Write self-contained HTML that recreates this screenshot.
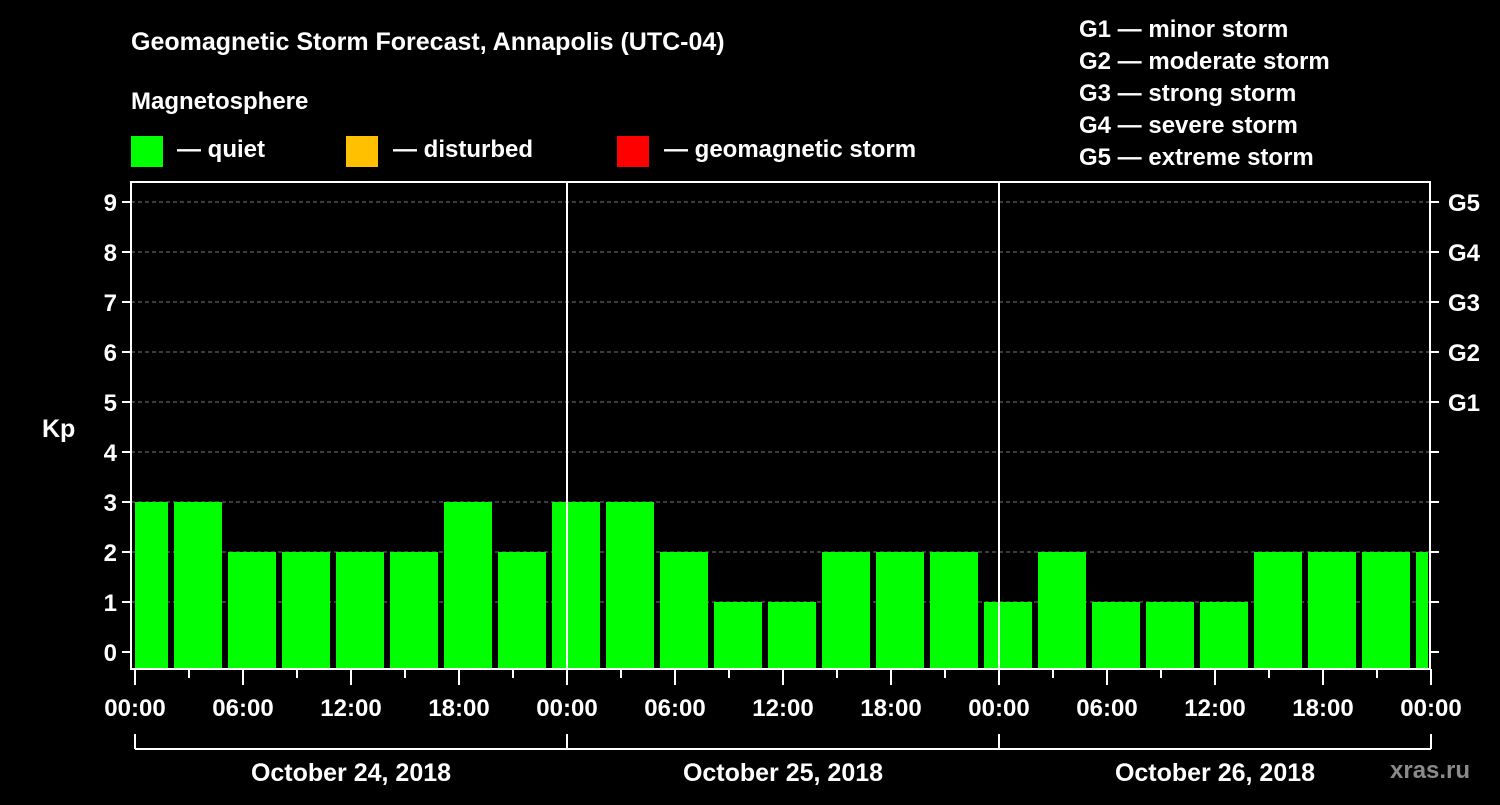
<!DOCTYPE html>
<html><head><meta charset="utf-8"><style>
body{margin:0;background:#000;width:1500px;height:800px;overflow:hidden}
svg text{font-family:"Liberation Sans",sans-serif;font-weight:bold;fill:#fff}
</style></head><body>
<svg id="c" width="1500" height="800" xmlns="http://www.w3.org/2000/svg">
<text x="131" y="50" font-size="25">Geomagnetic Storm Forecast, Annapolis (UTC-04)</text>
<text x="131" y="109" font-size="24">Magnetosphere</text>
<g><rect x="131" y="136" width="32" height="31" fill="#00ff00"/><text x="177" y="157" font-size="24">— quiet</text></g>
<g><rect x="346" y="136" width="32" height="31" fill="#ffc000"/><text x="393" y="157" font-size="24">— disturbed</text></g>
<g><rect x="617" y="136" width="32" height="31" fill="#ff0000"/><text x="664" y="157" font-size="24">— geomagnetic storm</text></g>
<g font-size="24">
<text x="1079" y="37">G1 — minor storm</text><text x="1079" y="69">G2 — moderate storm</text><text x="1079" y="101">G3 — strong storm</text><text x="1079" y="133">G4 — severe storm</text><text x="1079" y="165">G5 — extreme storm</text></g>
<text x="42" y="437" font-size="25">Kp</text>
<text x="1390" y="778" font-size="24" fill="#888" style="fill:#8a8a8a">xras.ru</text>
<g id="grid"></g><g id="bars"></g><g id="axes"></g>
</svg>
<script>
const values=[3,3,2,2,2,2,3,2,3,3,2,1,1,2,2,2,1,2,1,1,1,2,2,2,2];
const yTicks=[0,1,2,3,4,5,6,7,8,9];
const gLabels=["G1","G2","G3","G4","G5"];
const gLevels=[5,6,7,8,9];
const xTickLabels=["00:00","06:00","12:00","18:00","00:00","06:00","12:00","18:00","00:00","06:00","12:00","18:00","00:00"];
const dayLabels=["October 24, 2018","October 25, 2018","October 26, 2018"];
const NS="http://www.w3.org/2000/svg";
const X0=135,HOUR=18,Y0=652,UNIT=50,L=131,R=1430,T=182,B=669;
const xs=h=>X0+h*HOUR, ys=v=>Y0-v*UNIT;
function mk(p,tag,a){const e=document.createElementNS(NS,tag);for(const k in a)e.setAttribute(k,a[k]);p.appendChild(e);return e;}
const grid=document.getElementById('grid'),bars=document.getElementById('bars'),axes=document.getElementById('axes');
yTicks.forEach(v=>{if(v>0){const l=mk(grid,'line',{x1:L,x2:R,y1:ys(v),y2:ys(v),stroke:'#777','stroke-dasharray':'4,3','stroke-width':1});

}});
values.forEach((v,i)=>{const c=xs(i*3+0.5);let x1=Math.max(c-24,L+4),x2=Math.min(c+24,R-2);
const r=mk(bars,'rect',{x:x1,y:ys(v),width:x2-x1,height:B-1-ys(v),fill:'#00ff00'});

});
// day separators
[1,2].forEach(d=>{const l=mk(axes,'line',{x1:xs(d*24),x2:xs(d*24),y1:T,y2:B,stroke:'#fff','stroke-width':2});

});
const fr=mk(axes,'rect',{x:L,y:T,width:R-L,height:B-T,fill:'none',stroke:'#fff','stroke-width':2});


yTicks.forEach(v=>{mk(axes,'line',{x1:L-9,x2:L,y1:ys(v),y2:ys(v),stroke:'#fff','stroke-width':2});
mk(axes,'line',{x1:R,x2:R+9,y1:ys(v),y2:ys(v),stroke:'#fff','stroke-width':2});
const t=mk(axes,'text',{x:L-14,y:ys(v)+9,'font-size':24,'text-anchor':'end'});t.textContent=v;

});
gLabels.forEach((g,i)=>{const t=mk(axes,'text',{x:R+18,y:ys(gLevels[i])+9,'font-size':24});t.textContent=g;

});
for(let h=0;h<=72;h+=3){const major=h%6===0;mk(axes,'line',{x1:xs(h),x2:xs(h),y1:B,y2:B+(major?16:9),stroke:'#fff','stroke-width':2});}
xTickLabels.forEach((s,i)=>{const t=mk(axes,'text',{x:xs(i*6),y:716,'font-size':24,'text-anchor':'middle'});t.textContent=s;

});
mk(axes,'line',{x1:xs(0),x2:xs(72),y1:749,y2:749,stroke:'#fff','stroke-width':2});
for(let d=0;d<=3;d++)mk(axes,'line',{x1:xs(d*24),x2:xs(d*24),y1:734,y2:749,stroke:'#fff','stroke-width':2});
dayLabels.forEach((s,i)=>{const t=mk(axes,'text',{x:xs(i*24+12),y:781,'font-size':25,'text-anchor':'middle'});t.textContent=s;

});
</script>
</body></html>
